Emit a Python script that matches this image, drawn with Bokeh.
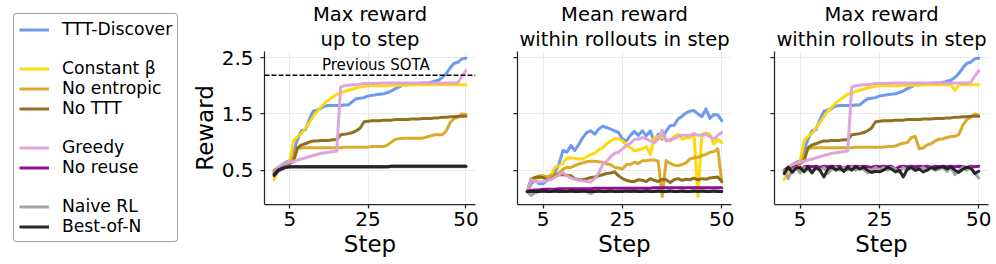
from bokeh.plotting import figure
from bokeh.models import Range1d, Legend, LegendItem, Span, Label, Title
from bokeh.layouts import row
from bokeh.embed import file_html
from bokeh.resources import INLINE

FONT = "DejaVu Sans"

steps = list(range(1, 51))
names = ["TTT-Discover", "Constant β", "No entropic", "No TTT",
         "Greedy", "No reuse", "Naive RL", "Best-of-N"]
colors = ["#6495ED", "#FFD700", "#DAA520", "#8B6914",
          "#DDA0DD", "#8B008B", "#A0A0A0", "#1C1C1C"]
x_ticks = [5, 25, 50]
y_ticks = [0.5, 1.5, 2.5]
previous_sota = 2.19
sota_label_step = 27
sota_label_reward = 2.37

# ---- Panel 1: max reward up to step ----
ttt_max = [0.44,0.52,0.60,0.64,0.67,0.85,1.05,1.20,1.22,1.40,
           1.55,1.57,1.60,1.64,1.65,1.65,1.65,1.65,1.66,1.66,
           1.72,1.77,1.78,1.79,1.82,1.83,1.84,1.85,1.86,1.88,
           1.91,1.95,1.98,2.02,2.02,2.03,2.03,2.04,2.05,2.05,
           2.06,2.08,2.10,2.15,2.22,2.32,2.40,2.42,2.48,2.49]
const_max = [0.33,0.50,0.58,0.62,0.65,1.02,1.10,1.15,1.25,1.35,
             1.45,1.55,1.62,1.70,1.75,1.80,1.85,1.87,1.90,1.92,
             1.94,1.96,1.98,1.99,2.00,2.00,2.00,2.00,2.00,2.00,
             2.01,2.01,2.01,2.01,2.01,2.02,2.02,2.02,2.02,2.02,
             2.02,2.02,2.02,2.02,2.02,2.02,2.02,2.02,2.02,2.02]
noent_max = [0.50,0.55,0.58,0.60,0.62,0.75,0.88,0.90,0.90,0.90,
             0.90,0.90,0.90,0.90,0.90,0.90,0.90,0.90,0.91,0.91,
             0.91,0.91,0.91,0.91,0.91,0.92,0.92,0.92,0.92,0.95,
             1.00,1.05,1.06,1.07,1.07,1.07,1.07,1.07,1.07,1.09,
             1.11,1.13,1.13,1.13,1.20,1.35,1.42,1.44,1.50,1.49]
nottt_max = [0.47,0.54,0.56,0.60,0.62,0.66,0.90,0.95,0.97,1.00,
             1.02,1.02,1.03,1.03,1.03,1.04,1.04,1.13,1.14,1.15,
             1.17,1.20,1.25,1.36,1.37,1.38,1.38,1.38,1.39,1.39,
             1.39,1.40,1.40,1.40,1.40,1.41,1.41,1.41,1.42,1.42,
             1.42,1.43,1.43,1.44,1.44,1.45,1.45,1.46,1.46,1.46]
greedy_max = [0.45,0.55,0.60,0.62,0.64,0.66,0.68,0.70,0.72,0.74,
              0.76,0.78,0.80,0.81,0.82,0.83,0.84,1.98,2.00,2.01,
              2.02,2.02,2.03,2.04,2.04,2.04,2.04,2.05,2.05,2.05,
              2.05,2.05,2.05,2.05,2.05,2.05,2.05,2.05,2.05,2.05,
              2.05,2.05,2.05,2.05,2.05,2.05,2.05,2.06,2.17,2.27]
noreuse_max = [0.40,0.48,0.52,0.55,0.56,0.56,0.56,0.56,0.56,0.56,
               0.56,0.56,0.56,0.56,0.56,0.56,0.56,0.56,0.56,0.56,
               0.56,0.56,0.56,0.56,0.56,0.56,0.56,0.56,0.56,0.56,
               0.57,0.57,0.57,0.57,0.57,0.57,0.57,0.57,0.57,0.57,
               0.57,0.57,0.57,0.57,0.57,0.57,0.57,0.57,0.57,0.57]
naive_max = [0.45,0.50,0.54,0.55,0.55,0.56,0.56,0.56,0.56,0.56,
             0.56,0.56,0.56,0.56,0.56,0.56,0.56,0.56,0.56,0.56,
             0.56,0.56,0.56,0.56,0.56,0.56,0.56,0.56,0.56,0.56,
             0.56,0.56,0.56,0.56,0.56,0.56,0.56,0.56,0.56,0.56,
             0.56,0.56,0.56,0.56,0.56,0.56,0.56,0.56,0.56,0.56]
bon_max = [0.42,0.50,0.53,0.55,0.56,0.56,0.56,0.56,0.56,0.56,
           0.56,0.56,0.56,0.56,0.56,0.56,0.56,0.56,0.56,0.56,
           0.56,0.56,0.56,0.56,0.56,0.56,0.56,0.56,0.56,0.56,
           0.57,0.57,0.57,0.57,0.57,0.57,0.57,0.57,0.57,0.57,
           0.57,0.57,0.57,0.57,0.57,0.57,0.57,0.57,0.57,0.57]

# ---- Panel 2: mean reward within rollouts in step ----
ttt_mean = [0.11,0.26,0.32,0.26,0.26,0.32,0.36,0.46,0.61,0.85,
            0.82,0.94,0.85,0.96,1.08,1.17,1.20,1.14,1.23,1.28,
            1.26,1.23,1.20,1.17,1.05,1.02,1.12,1.19,1.12,1.20,
            1.11,1.20,1.00,1.14,1.05,1.20,1.29,1.30,1.41,1.46,
            1.52,1.55,1.56,1.50,1.45,1.59,1.42,1.49,1.48,1.38]
const_mean = [0.12,0.32,0.35,0.36,0.37,0.38,0.42,0.55,0.58,0.62,
              0.72,0.72,0.71,0.70,0.70,0.74,0.78,0.80,0.86,0.90,
              0.97,1.02,1.06,1.06,1.02,0.95,0.90,0.84,0.86,0.88,
              0.92,0.78,1.08,1.10,1.08,1.05,1.02,1.10,1.14,1.05,
              1.08,1.08,1.15,0.03,1.14,1.16,1.14,0.96,1.05,0.99]
noent_mean = [0.12,0.35,0.37,0.40,0.40,0.38,0.40,0.42,0.45,0.52,
              0.55,0.55,0.58,0.61,0.63,0.65,0.66,0.66,0.65,0.64,
              0.61,0.60,0.55,0.54,0.52,0.60,0.60,0.64,0.62,0.67,
              0.67,0.68,0.68,0.66,0.03,0.67,0.62,0.59,0.58,0.60,
              0.63,0.70,0.72,0.73,0.76,0.78,0.82,0.83,0.88,0.29]
nottt_mean = [0.12,0.33,0.37,0.38,0.37,0.33,0.34,0.40,0.42,0.42,
              0.41,0.40,0.35,0.33,0.33,0.35,0.37,0.38,0.40,0.42,
              0.44,0.45,0.47,0.40,0.35,0.32,0.30,0.30,0.33,0.32,
              0.30,0.35,0.32,0.30,0.34,0.33,0.28,0.33,0.35,0.32,
              0.34,0.33,0.36,0.33,0.35,0.34,0.36,0.37,0.38,0.30]
greedy_mean = [0.12,0.33,0.30,0.29,0.30,0.32,0.34,0.38,0.42,0.46,
               0.40,0.36,0.34,0.32,0.31,0.30,0.29,0.35,0.45,0.60,
               0.66,0.74,0.80,0.82,0.88,0.94,0.98,1.05,1.05,1.08,
               1.06,1.02,0.99,1.05,1.21,1.02,1.04,1.06,1.10,1.12,
               1.12,1.12,1.15,1.12,1.12,1.14,1.10,1.05,1.12,1.17]
noreuse_mean = [0.12,0.14,0.15,0.15,0.16,0.16,0.16,0.16,0.17,0.17,
                0.17,0.17,0.17,0.17,0.17,0.17,0.17,0.18,0.18,0.18,
                0.18,0.18,0.18,0.18,0.18,0.18,0.18,0.18,0.18,0.18,
                0.18,0.18,0.19,0.19,0.19,0.19,0.19,0.19,0.19,0.19,
                0.19,0.19,0.19,0.19,0.19,0.19,0.19,0.19,0.19,0.19]
naive_mean = [0.12,0.05,0.10,0.12,0.12,0.12,0.13,0.12,0.12,0.12,
              0.13,0.12,0.12,0.12,0.12,0.12,0.08,0.12,0.12,0.13,
              0.12,0.12,0.13,0.12,0.12,0.13,0.12,0.12,0.12,0.13,
              0.12,0.12,0.13,0.12,0.12,0.12,0.13,0.12,0.12,0.13,
              0.12,0.12,0.13,0.12,0.12,0.13,0.12,0.12,0.13,0.12]
bon_mean = [0.12,0.12,0.12,0.12,0.13,0.12,0.12,0.13,0.12,0.12,
            0.12,0.13,0.12,0.12,0.13,0.12,0.12,0.12,0.13,0.12,
            0.12,0.13,0.12,0.12,0.12,0.13,0.12,0.13,0.12,0.12,
            0.13,0.12,0.12,0.13,0.12,0.12,0.13,0.12,0.12,0.13,
            0.12,0.12,0.13,0.12,0.13,0.12,0.12,0.13,0.12,0.12]

# ---- Panel 3: max reward within rollouts in step ----
ttt_roll = [0.44,0.52,0.60,0.64,0.67,0.85,1.05,1.20,1.22,1.40,
            1.55,1.57,1.60,1.64,1.65,1.65,1.65,1.65,1.66,1.66,
            1.72,1.77,1.78,1.79,1.82,1.83,1.84,1.85,1.86,1.88,
            1.91,1.95,1.98,2.02,2.02,2.03,2.03,2.04,2.05,2.05,
            2.06,2.08,2.10,2.15,2.22,2.32,2.40,2.42,2.48,2.49]
const_roll = [0.33,0.50,0.58,0.62,0.65,1.02,1.10,1.15,1.25,1.35,
              1.45,1.55,1.62,1.70,1.75,1.80,1.85,1.87,1.90,1.92,
              1.94,1.96,1.98,1.99,2.00,2.00,2.00,2.00,2.00,2.00,
              2.01,2.01,2.01,2.01,2.01,2.02,2.02,2.02,2.02,2.02,
              2.02,2.02,2.02,1.92,2.02,2.02,2.02,2.02,2.02,2.02]
noent_roll = [0.50,0.55,0.58,0.60,0.62,0.75,0.88,0.90,0.90,0.90,
              0.90,0.90,0.90,0.90,0.90,0.90,0.90,0.90,0.91,0.91,
              0.91,0.91,0.91,0.91,0.91,0.91,0.92,0.92,0.93,0.96,
              0.98,0.99,1.08,1.10,0.88,0.90,0.95,0.97,1.02,1.05,
              1.06,1.08,1.10,1.10,1.14,1.30,1.40,1.44,1.50,1.47]
nottt_roll = [0.47,0.54,0.56,0.60,0.62,0.66,0.90,0.95,0.97,1.00,
              1.02,1.02,1.03,1.03,1.03,1.04,1.04,1.13,1.14,1.15,
              1.17,1.20,1.25,1.36,1.37,1.38,1.38,1.38,1.39,1.39,
              1.39,1.40,1.40,1.40,1.40,1.41,1.41,1.41,1.42,1.42,
              1.42,1.43,1.43,1.44,1.44,1.45,1.45,1.46,1.46,1.46]
greedy_roll = [0.45,0.55,0.60,0.62,0.64,0.66,0.68,0.70,0.72,0.74,
               0.76,0.78,0.80,0.81,0.82,0.83,0.84,1.98,2.00,2.01,
               2.02,2.02,2.03,2.04,2.04,2.04,2.04,2.05,2.05,2.05,
               2.05,2.05,2.05,2.05,2.05,2.05,2.05,2.05,2.05,2.05,
               2.05,2.05,2.05,2.05,2.05,2.05,2.05,2.06,2.17,2.27]
noreuse_roll = [0.50,0.55,0.50,0.57,0.48,0.56,0.57,0.56,0.57,0.55,
                0.57,0.56,0.57,0.56,0.57,0.52,0.57,0.56,0.57,0.56,
                0.57,0.56,0.55,0.57,0.56,0.57,0.56,0.57,0.52,0.56,
                0.57,0.56,0.57,0.56,0.57,0.56,0.57,0.55,0.57,0.56,
                0.57,0.56,0.57,0.56,0.57,0.56,0.55,0.57,0.56,0.57]
naive_roll = [0.50,0.35,0.50,0.55,0.45,0.55,0.50,0.48,0.55,0.50,
              0.55,0.44,0.52,0.55,0.50,0.55,0.50,0.56,0.50,0.55,
              0.52,0.45,0.50,0.55,0.50,0.55,0.50,0.55,0.52,0.46,
              0.55,0.50,0.55,0.50,0.52,0.55,0.50,0.55,0.50,0.52,
              0.55,0.48,0.55,0.42,0.50,0.55,0.50,0.55,0.45,0.36]
bon_roll = [0.44,0.55,0.46,0.54,0.55,0.47,0.56,0.45,0.55,0.50,
            0.38,0.52,0.56,0.50,0.54,0.48,0.55,0.50,0.56,0.52,
            0.55,0.50,0.46,0.48,0.47,0.50,0.55,0.52,0.47,0.50,
            0.38,0.52,0.55,0.50,0.52,0.47,0.50,0.55,0.52,0.55,
            0.56,0.52,0.56,0.50,0.46,0.52,0.55,0.54,0.44,0.48]

panel1 = [ttt_max, const_max, noent_max, nottt_max, greedy_max, noreuse_max, naive_max, bon_max]
panel2 = [ttt_mean, const_mean, noent_mean, nottt_mean, greedy_mean, noreuse_mean, naive_mean, bon_mean]
panel3 = [ttt_roll, const_roll, noent_roll, nottt_roll, greedy_roll, noreuse_roll, naive_roll, bon_roll]

H = 264
AXIS_COLOR = "#262626"
LEG_W = 188


def style_title(t, standoff):
    t.align = "center"
    t.text_font = FONT
    t.text_font_size = "19.5px"
    t.text_font_style = "normal"
    t.text_color = "black"
    t.standoff = standoff


def make_panel(title_lines, series, width, left, right, ylabel):
    p = figure(width=width, height=H, toolbar_location=None, output_backend="svg",
               x_range=Range1d(-1.45, 52.45), y_range=Range1d(-0.11, 2.61),
               min_border_left=left, min_border_right=right,
               min_border_top=50, min_border_bottom=60, title=title_lines[0])
    p.outline_line_color = None
    p.background_fill_color = "white"
    p.border_fill_color = "white"
    style_title(p.title, 0)
    low_title = Title(text=title_lines[1])
    style_title(low_title, 1)
    p.add_layout(low_title, "above")
    for ax in (p.xaxis[0], p.yaxis[0]):
        ax.axis_line_color = AXIS_COLOR
        ax.axis_line_width = 1.25
        ax.major_tick_line_color = AXIS_COLOR
        ax.major_tick_line_width = 1.25
        ax.major_tick_in = 0
        ax.major_tick_out = 4
        ax.minor_tick_line_color = None
        ax.major_label_text_font = FONT
        ax.major_label_text_font_size = "20px"
        ax.major_label_text_color = "black"
        ax.axis_label_text_font = FONT
        ax.axis_label_text_font_size = "23px"
        ax.axis_label_text_font_style = "normal"
        ax.axis_label_text_color = "black"
    p.xaxis.ticker = x_ticks
    p.yaxis.ticker = y_ticks
    p.xaxis.major_label_standoff = 3
    p.xaxis.axis_label = "Step"
    p.xaxis.axis_label_standoff = 2
    p.yaxis.major_label_standoff = 7
    if ylabel:
        p.yaxis.axis_label = "Reward"
        p.yaxis.axis_label_standoff = 1
    else:
        p.yaxis.major_label_overrides = {t: "" for t in y_ticks}
    p.xgrid.grid_line_color = "#ebebeb"
    p.ygrid.grid_line_color = "#ebebeb"
    for vals, col in zip(series, colors):
        p.line(steps, vals, line_color=col, line_width=3, line_alpha=0.95,
               line_join="round", line_cap="round")
    return p


p1 = make_panel(["Max reward", "up to step"], panel1, 487 - LEG_W, 262 - LEG_W, 12, True)
p1.add_layout(Span(location=previous_sota, dimension="width", line_color="black",
                   line_width=1.5, line_dash="5 2"))
p1.add_layout(Label(x=sota_label_step, y=sota_label_reward, text="Previous SOTA",
                    text_align="center", text_baseline="alphabetic",
                    text_font=FONT, text_font_size="15px", text_color="black"))
p2 = make_panel(["Mean reward", "within rollouts in step"], panel2, 257, 30, 13, False)
p3 = make_panel(["Max reward", "within rollouts in step"], panel3, 252, 30, 8, False)

# ---- legend figure (left of the first panel) ----
lp = figure(width=LEG_W, height=H, toolbar_location=None, output_backend="svg",
            x_range=Range1d(-10, -9), y_range=Range1d(-10, -9), min_border=0,
            x_axis_location=None, y_axis_location=None)
if "frame_align" in lp.properties():
    lp.frame_align = False
lp.outline_line_color = None
lp.xgrid.visible = False
lp.ygrid.visible = False
lp.title.visible = False
proxies = [lp.line(steps, vals, line_color=col, line_width=3, line_alpha=0.95)
           for vals, col in zip(panel1, colors)]
spacer = lp.line(steps, bon_max, line_alpha=0)
groups = [[0], [1, 2, 3], [4, 5], [6, 7]]
items = []
for gi, g in enumerate(groups):
    if gi > 0:
        items.append(LegendItem(label=" ", renderers=[spacer]))
    for i in g:
        items.append(LegendItem(label=names[i], renderers=[proxies[i]]))
leg = Legend(items=items, location="top_left", margin=13, padding=5, spacing=0,
             glyph_width=30, glyph_height=19, label_height=19, label_standoff=13,
             label_text_font=FONT, label_text_font_size="17.2px", label_text_color="black",
             border_line_color="#444444", border_line_width=1,
             background_fill_color="white", background_fill_alpha=1)
if "border_radius" in Legend.properties():
    leg.border_radius = 4
lp.add_layout(leg)

layout = row(lp, p1, p2, p3)
open("out.html", "w").write(file_html(layout, INLINE))
